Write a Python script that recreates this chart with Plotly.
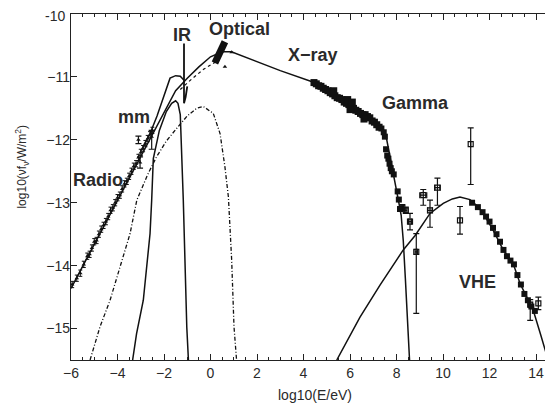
import plotly.graph_objects as go

# ---- model curves ----
sync_x = [-6, -5, -4, -3, -2.5, -2.0, -1.5, -1.0, -0.5, 0.0, 0.5, 0.9, 2.0, 3.0, 4.4, 5.0, 5.5, 6.0, 6.5, 7.0, 7.36, 7.58, 7.72, 7.86, 8.0, 8.08, 8.2, 8.29, 8.38, 8.47, 8.56]
sync_y = [-14.36, -13.66, -12.95, -12.25, -11.9, -11.55, -11.22, -11.02, -10.84, -10.68, -10.6, -10.6, -10.76, -10.9, -11.08, -11.2, -11.32, -11.45, -11.57, -11.7, -11.79, -12.0, -12.27, -12.48, -12.75, -12.96, -13.2, -13.6, -14.2, -14.9, -15.5]

total_x = [-3.0, -2.6, -2.3, -2.0, -1.74, -1.5, -1.3, -1.15]
total_y = [-12.18, -11.9, -11.62, -11.3, -11.02, -10.98, -10.99, -11.05]

band_x = [-1.3, -0.8, -0.3, 0.12, 0.4]
band_y = [-11.2, -11.03, -10.88, -10.78, -10.72]

ir_x = [-1.14, -1.14, -1.07, -1.0]
ir_y = [-10.47, -11.42, -11.32, -11.15]

dust_x = [-3.35, -3.18, -2.89, -2.75, -2.6, -2.53, -2.46, -2.2, -1.9, -1.67, -1.5, -1.4, -1.3, -1.17, -1.1, -1.02, -0.95]
dust_y = [-15.5, -15.08, -14.55, -14.02, -13.49, -12.96, -12.3, -11.85, -11.55, -11.42, -11.38, -11.42, -11.6, -12.96, -14.02, -14.98, -15.5]

dash_x = [-5.18, -4.75, -4.32, -3.89, -3.46, -3.17, -2.7, -2.32, -1.9, -1.46, -1.0, -0.6, -0.31, 0.12, 0.41, 0.62, 0.77, 0.91, 1.01, 1.12]
dash_y = [-15.5, -14.97, -14.55, -14.02, -13.49, -12.96, -12.55, -12.27, -12.02, -11.82, -11.62, -11.5, -11.47, -11.58, -11.9, -12.43, -12.91, -13.91, -14.97, -15.5]

ic_x = [5.43, 6.43, 7.29, 8.0, 8.29, 8.8, 9.44, 10.01, 10.4, 10.73, 11.16, 11.52, 11.73, 12.16, 12.59, 13.02, 13.31, 13.6, 13.88, 14.2, 14.5]
ic_y = [-15.5, -14.82, -14.31, -13.9, -13.75, -13.52, -13.17, -13.01, -12.94, -12.91, -12.95, -13.07, -13.17, -13.44, -13.75, -13.97, -14.28, -14.5, -14.71, -15.1, -15.47]

# ---- data ----
radio_x = [-5.95, -5.75, -5.6, -5.45, -5.3, -5.2, -5.1, -5.0, -4.9, -4.8, -4.7, -4.6, -4.5, -4.4, -4.3, -4.2, -4.1, -4.0, -3.9, -3.8, -3.7, -3.6, -3.5, -3.4, -3.3, -3.2, -3.1, -3.0, -2.9, -2.8, -2.7, -2.6, -2.5]
radio_y = [-14.3, -14.2, -14.12, -13.98, -13.85, -13.82, -13.72, -13.62, -13.6, -13.5, -13.42, -13.36, -13.3, -13.22, -13.12, -13.08, -13.0, -12.92, -12.88, -12.78, -12.7, -12.66, -12.58, -12.5, -12.42, -12.38, -12.28, -12.2, -12.14, -12.06, -11.98, -11.92, -11.85]

mm_x = [-3.1, -3.03, -2.53]
mm_y = [-12.0, -12.36, -11.95]
mm_up = [0.06, 0.09, 0.1]
mm_dn = [0.06, 0.09, 0.2]

opt_x = [0.19, 0.62]
opt_y = [-10.78, -10.44]
opt_pts_x = [0.62, 0.91]
opt_pts_y = [-10.84, -10.61]

xray_x = [4.45, 4.55, 4.65, 4.75, 4.85, 4.95, 5.05, 5.15, 5.25, 5.35, 5.45, 5.55, 5.65, 5.75, 5.85, 5.95, 6.05, 6.15, 6.25, 6.35, 6.45, 6.55, 6.65, 6.75, 6.85, 6.95, 7.05, 7.15, 7.25, 5.9, 6.0, 6.1, 5.3, 6.6]
xray_y = [-11.09, -11.11, -11.14, -11.15, -11.18, -11.2, -11.22, -11.25, -11.27, -11.3, -11.33, -11.34, -11.36, -11.4, -11.42, -11.44, -11.47, -11.5, -11.53, -11.55, -11.58, -11.6, -11.6, -11.63, -11.65, -11.7, -11.72, -11.76, -11.8, -11.36, -11.52, -11.4, -11.22, -11.67]

gam_x = [7.35, 7.45, 7.5, 7.55, 7.6, 7.65, 7.7, 7.75, 7.8, 7.88, 8.05, 8.1, 8.15]
gam_y = [-11.82, -11.88, -11.95, -12.15, -12.25, -12.3, -12.38, -12.45, -12.5, -12.55, -12.82, -12.95, -13.1]

egret_x = [8.25, 8.4, 8.58, 8.85, 9.15, 9.44, 9.76, 10.73, 11.19, 13.75, 14.1]
egret_y = [-13.08, -13.12, -13.3, -13.78, -12.88, -13.12, -12.76, -13.28, -12.07, -14.62, -14.6]
egret_up = [0.05, 0.05, 0.13, 0.29, 0.09, 0.16, 0.15, 0.22, 0.26, 0.08, 0.1]
egret_dn = [0.05, 0.05, 0.13, 0.98, 0.16, 0.27, 0.28, 0.22, 0.64, 0.25, 0.1]
egret_ex = [0.05, 0.05, 0.07, 0.05, 0.15, 0.1, 0.12, 0.0, 0.0, 0.08, 0.0]

vhe_x = [11.25, 11.5, 11.7, 11.85, 12.0, 12.15, 12.3, 12.45, 12.6, 12.75, 12.9, 13.05, 13.2, 13.35, 13.5, 13.65, 13.8, 13.95]
vhe_y = [-13.0, -13.07, -13.15, -13.22, -13.3, -13.4, -13.5, -13.62, -13.75, -13.85, -13.92, -13.98, -14.15, -14.3, -14.45, -14.55, -14.65, -14.72]

labels = ["Radio", "mm", "IR", "Optical", "X\u2212ray", "Gamma", "VHE"]
label_x = [-4.84, -3.29, -1.23, 1.23, 4.41, 8.8, 11.5]
label_y = [-12.64, -11.64, -10.33, -10.24, -10.65, -11.41, -14.26]

y_tickvals = [-15, -14, -13, -12, -11]
y_top_label = "-10"

K = "#111111"
TXT = "#2a2a2a"
FONT = "Liberation Sans, Arial"
fig = go.Figure()

def line(x, y, dash="solid", w=1.4):
    fig.add_trace(go.Scatter(x=x, y=y, mode="lines", line=dict(color=K, width=w, dash=dash),
                             showlegend=False, hoverinfo="skip"))

line(sync_x, sync_y, w=1.5)
line(total_x, total_y, w=1.5)
line(band_x, band_y, dash="dot", w=1.2)
line(ir_x, ir_y, w=1.8)
line(dust_x, dust_y, w=1.5)
line(dash_x, dash_y, dash="4px,2px,1px,2px", w=1.3)
line(ic_x, ic_y, w=1.5)
line(opt_x, opt_y, w=7)

fig.add_trace(go.Scatter(x=radio_x, y=radio_y, mode="markers",
                         marker=dict(symbol="triangle-up", size=4, color=K),
                         error_y=dict(type="constant", value=0.05, width=2, thickness=1, color=K),
                         showlegend=False, hoverinfo="skip"))
fig.add_trace(go.Scatter(x=mm_x, y=mm_y, mode="markers",
                         marker=dict(symbol="triangle-up", size=4, color=K),
                         error_y=dict(type="data", symmetric=False, array=mm_up, arrayminus=mm_dn,
                                      width=3, thickness=1.2, color=K),
                         showlegend=False, hoverinfo="skip"))
fig.add_trace(go.Scatter(x=opt_pts_x, y=opt_pts_y, mode="markers",
                         marker=dict(symbol="triangle-up", size=4, color=K),
                         showlegend=False, hoverinfo="skip"))
fig.add_trace(go.Scatter(x=xray_x, y=xray_y, mode="markers",
                         marker=dict(symbol="square", size=7, color=K),
                         showlegend=False, hoverinfo="skip"))
fig.add_trace(go.Scatter(x=gam_x, y=gam_y, mode="markers",
                         marker=dict(symbol="square", size=6, color=K),
                         showlegend=False, hoverinfo="skip"))
fig.add_trace(go.Scatter(x=egret_x, y=egret_y, mode="markers",
                         marker=dict(symbol="square-open", size=5, color=K, line=dict(width=1.2)),
                         error_y=dict(type="data", symmetric=False, array=egret_up, arrayminus=egret_dn,
                                      width=3, thickness=1.2, color=K),
                         error_x=dict(type="data", array=egret_ex, width=3, thickness=1.2, color=K),
                         showlegend=False, hoverinfo="skip"))
fig.add_trace(go.Scatter(x=vhe_x, y=vhe_y, mode="markers",
                         marker=dict(symbol="square", size=6, color=K),
                         showlegend=False, hoverinfo="skip"))

for t, x, y in zip(labels, label_x, label_y):
    fig.add_annotation(x=x, y=y, text="<b>" + t + "</b>", showarrow=False,
                       font=dict(family=FONT, size=18, color=TXT))

# page has an 8px body margin: figure is 545x397, plot area spans 63..545 x 6..352
fig.add_annotation(xref="paper", yref="paper", x=0, y=1, xanchor="right", yanchor="middle",
                   xshift=-4, yshift=-2, text=y_top_label, showarrow=False,
                   font=dict(family=FONT, size=14, color=TXT))
fig.add_annotation(xref="paper", yref="paper", x=-0.101, y=0.56, text="log10(\u03bdf<sub>\u03bd</sub>/W/m<sup>2</sup>)",
                   textangle=-90, showarrow=False, xanchor="center", yanchor="middle",
                   font=dict(family=FONT, size=12, color=TXT))
fig.add_annotation(xref="paper", yref="paper", x=0.5055, y=-0.101, text="log10(E/eV)",
                   showarrow=False, xanchor="center", yanchor="middle",
                   font=dict(family=FONT, size=14, color=TXT))

axis_common = dict(showgrid=False, zeroline=False, showline=True, linecolor="#222", linewidth=1.3,
                   ticks="inside", tickcolor="#222", mirror="ticks",
                   tickfont=dict(family=FONT, size=14, color=TXT))
fig.update_xaxes(range=[-6, 14.73], dtick=2, tick0=0, ticklen=6, tickwidth=1.2,
                 minor=dict(dtick=0.5, ticklen=3, ticks="inside", tickcolor="#222", tickwidth=1.1),
                 **axis_common)
fig.update_yaxes(range=[-15.5, -10], tickmode="array", tickvals=y_tickvals, ticklen=6, tickwidth=1.2,
                 ticklabelstandoff=-3, **axis_common)

fig.update_layout(width=545, height=397, margin=dict(l=63, r=0, t=6, b=45),
                  plot_bgcolor="white", paper_bgcolor="white")
fig.write_html("out.html")
